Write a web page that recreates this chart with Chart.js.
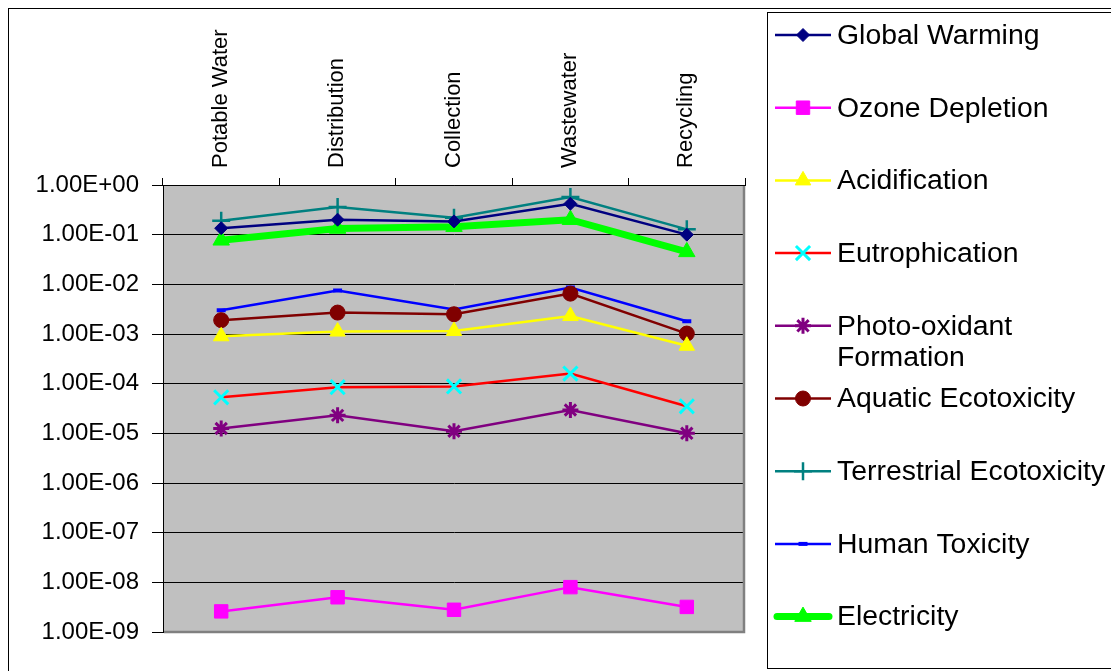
<!DOCTYPE html>
<html>
<head>
<meta charset="utf-8">
<script src="https://cdn.jsdelivr.net/npm/chart.js@4/dist/chart.umd.min.js"></script>
<style>
  html, body { margin: 0; padding: 0; background: #fff; }
  #wrap { width: 1111px; height: 671px; position: relative; }
</style>
</head>
<body>
<div id="wrap"><canvas id="c" width="1111" height="671"></canvas></div>
<script>
// Life-cycle stages (x axis, drawn along the top)
const categories = ['Potable Water', 'Distribution', 'Collection', 'Wastewater', 'Recycling'];

// Impact category results per stage
const globalWarming    = [0.135, 0.20, 0.185, 0.42, 0.10];
const ozoneDepletion   = [2.6e-9, 5.0e-9, 2.8e-9, 8.0e-9, 3.2e-9];
const acidification    = [0.00090, 0.00112, 0.00115, 0.0023, 0.00058];
const eutrophication   = [5.3e-5, 8.5e-5, 8.8e-5, 1.6e-4, 3.5e-5];
const photoOxidant     = [1.25e-5, 2.3e-5, 1.1e-5, 2.95e-5, 1.0e-5];
const aquaticEcotox    = [0.0019, 0.0027, 0.0025, 0.0065, 0.00102];
const terrestrialEcotox= [0.19, 0.36, 0.22, 0.57, 0.128];
const humanToxicity    = [0.0030, 0.0075, 0.0031, 0.0086, 0.0018];
const electricity      = [0.077, 0.133, 0.145, 0.20, 0.045];

// Logarithmic axis ticks and their labels
const yTicks      = [1, 1e-1, 1e-2, 1e-3, 1e-4, 1e-5, 1e-6, 1e-7, 1e-8, 1e-9];
const yTickLabels = ['1.00E+00', '1.00E-01', '1.00E-02', '1.00E-03', '1.00E-04',
                     '1.00E-05', '1.00E-06', '1.00E-07', '1.00E-08', '1.00E-09'];

const FONT = '"Liberation Sans", Arial, sans-serif';

function series(label, data, color, style, radius, opts) {
  return Object.assign({
    label: label,
    data: data,
    borderColor: color,
    backgroundColor: color,
    pointBackgroundColor: color,
    pointBorderColor: color,
    borderWidth: 2.5,
    pointStyle: style,
    pointRadius: radius,
    pointHoverRadius: radius,
    pointBorderWidth: 1,
    tension: 0,
    fill: false
  }, opts || {});
}

const datasets = [
  series('Global Warming', globalWarming, '#000080', 'rectRot', 6.5),
  series('Ozone Depletion', ozoneDepletion, '#FF00FF', 'rect', 9.5),
  series('Acidification', acidification, '#FFFF00', 'triangle', 9),
  series('Eutrophication', eutrophication, '#FF0000', 'crossRot', 10,
         { pointBorderColor: '#00FFFF', pointBackgroundColor: '#00FFFF', pointBorderWidth: 3 }),
  series('Photo-oxidant\nFormation', photoOxidant, '#800080', 'star', 8, { pointBorderWidth: 3 }),
  series('Aquatic Ecotoxicity', aquaticEcotox, '#800000', 'circle', 7.5),
  series('Terrestrial Ecotoxicity', terrestrialEcotox, '#008080', 'cross', 9, { pointBorderWidth: 2.5 }),
  series('Human Toxicity', humanToxicity, '#0000FF', 'line', 4.5, { pointBorderWidth: 4 }),
  series('Electricity', electricity, '#00FF00', 'triangle', 9.5, { borderWidth: 7 })
];

// Gray plotting area, white page and the outer frame
const backdrop = {
  id: 'backdrop',
  beforeDraw(chart) {
    const ctx = chart.ctx, a = chart.chartArea;
    ctx.save();
    ctx.fillStyle = '#FFFFFF';
    ctx.fillRect(0, 0, chart.width, chart.height);
    ctx.fillStyle = '#C0C0C0';
    ctx.fillRect(a.left, a.top, a.right - a.left, a.bottom - a.top);
    ctx.restore();
  },
  beforeDatasetsDraw(chart) {
    const ctx = chart.ctx, a = chart.chartArea;
    ctx.save();
    ctx.strokeStyle = '#808080';
    ctx.lineWidth = 2.5;
    ctx.beginPath();
    ctx.moveTo(a.right - 1, a.top + 1);
    ctx.lineTo(a.right - 1, a.bottom);
    ctx.lineTo(a.left + 1, a.bottom);
    ctx.stroke();
    ctx.restore();
  },
  afterDraw(chart) {
    const ctx = chart.ctx;
    ctx.save();
    ctx.strokeStyle = '#000';
    ctx.lineWidth = 1;
    ctx.strokeRect(8.5, 8.5, chart.width + 20, chart.height + 20);
    ctx.restore();
  }
};

// Boxed legend on the right, one entry per series
const sideLegend = {
  id: 'sideLegend',
  afterDraw(chart) {
    const ctx = chart.ctx;
    const boxX = 767.5, boxY = 12.5, boxBottom = 668.5;
    ctx.save();
    ctx.strokeStyle = '#000';
    ctx.lineWidth = 1;
    ctx.strokeRect(boxX, boxY, chart.width, boxBottom - boxY);

    const startY = 35, step = 72.7, lineH = 31;
    ctx.font = '28.4px ' + FONT;
    ctx.textBaseline = 'middle';
    ctx.textAlign = 'left';
    chart.data.datasets.forEach((ds, i) => {
      const y = startY + i * step;
      ctx.strokeStyle = ds.borderColor;
      ctx.lineWidth = ds.borderWidth;
      ctx.lineCap = ds.borderWidth > 4 ? 'round' : 'butt';
      ctx.beginPath();
      ctx.moveTo(ds.borderWidth > 4 ? 777 : 775, y);
      ctx.lineTo(ds.borderWidth > 4 ? 829 : 831, y);
      ctx.stroke();
      ctx.lineCap = 'butt';
      ctx.fillStyle = ds.pointBackgroundColor;
      ctx.strokeStyle = ds.pointBorderColor;
      ctx.lineWidth = ds.pointBorderWidth;
      Chart.helpers.drawPoint(ctx, {
        pointStyle: ds.pointStyle,
        radius: ds.pointRadius,
        rotation: 0,
        borderWidth: ds.pointBorderWidth
      }, 803, y);
      ctx.fillStyle = '#000';
      ds.label.split('\n').forEach((t, k) => ctx.fillText(t, 837, y + 1 + k * lineH));
    });
    ctx.restore();
  }
};

new Chart(document.getElementById('c'), {
  type: 'line',
  data: { labels: categories, datasets: datasets },
  plugins: [backdrop, sideLegend],
  options: {
    responsive: false,
    animation: false,
    layout: { padding: { left: 0, top: 0, right: 366, bottom: 39 } },
    plugins: { legend: { display: false }, tooltip: { enabled: false } },
    elements: { line: { borderJoinStyle: 'miter' } },
    scales: {
      x: {
        type: 'category',
        position: 'top',
        offset: true,
        afterFit(s) { s.height = 185; },
        grid: { offset: true, drawOnChartArea: false, drawTicks: true, tickLength: 7, color: '#000', lineWidth: 1 },
        border: { color: '#000', width: 1 },
        ticks: {
          minRotation: 90, maxRotation: 90, autoSkip: false, padding: 10,
          labelOffset: 26,
          color: '#000', font: { family: FONT, size: 22 }
        }
      },
      y: {
        type: 'logarithmic',
        min: 1e-9,
        max: 1,
        afterFit(s) { s.width = 163; },
        afterBuildTicks(s) { s.ticks = yTicks.map(v => ({ value: v })); },
        grid: { color: '#000', lineWidth: 1, tickLength: 11 },
        border: { color: '#000', width: 1 },
        ticks: {
          padding: 13,
          color: '#000',
          font: { family: FONT, size: 24 },
          callback(v) {
            const i = yTicks.findIndex(t => Math.abs(Math.log10(t) - Math.log10(v)) < 1e-6);
            return i >= 0 ? yTickLabels[i] : '';
          }
        }
      }
    }
  }
});
</script>
</body>
</html>
